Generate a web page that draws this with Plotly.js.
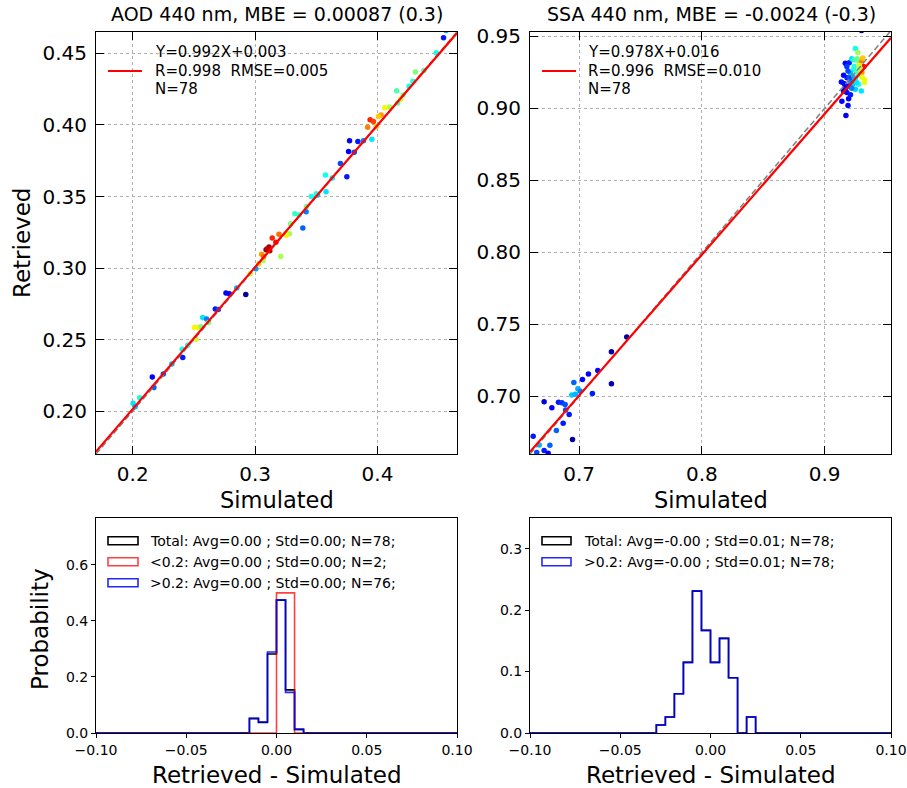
<!DOCTYPE html>
<html><head><meta charset="utf-8">
<script src="https://cdn.plot.ly/plotly-3.0.1.min.js"></script>
<style>html,body{margin:0;padding:0;background:#fff}#chart{width:907px;height:788px}</style>
</head><body><div id="chart"></div>
<script>
// ---------- AOD 440 nm scatter ----------
const aodSim = [0.456,0.454,0.448,0.431,0.429,0.4258,0.4157,0.4165,0.410,0.406,0.403,0.4008,0.394,0.3967,0.392,0.3954,0.3886,0.384,0.3772,0.3764,0.375,0.3697,0.3575,0.358,0.346,0.3417,0.339,0.3325,0.329,0.328,0.3255,0.3195,0.314,0.3114,0.309,0.310,0.321,0.3054,0.3065,0.3006,0.2924,0.2762,0.2789,0.2675,0.2572,0.2604,0.2504,0.2531,0.2558,0.2518,0.2404,0.2409,0.216,0.2173,0.2057,0.2003,0.202,0.225,0.232,0.245,0.262,0.270,0.285,0.296,0.303,0.317,0.336,0.351,0.363,0.381,0.399,0.421,0.438,0.312,0.307,0.350,0.342,0.419];
const aodRet = [0.466,0.461,0.4505,0.437,0.4306,0.427,0.424,0.4154,0.4126,0.412,0.407,0.406,0.4036,0.4025,0.3985,0.390,0.389,0.3884,0.389,0.3814,0.3638,0.373,0.365,0.3533,0.350,0.3393,0.328,0.338,0.331,0.324,0.3229,0.3236,0.321,0.3147,0.3128,0.3135,0.308,0.3096,0.3053,0.2995,0.2815,0.2826,0.282,0.2714,0.2655,0.2644,0.2585,0.2585,0.259,0.2503,0.2433,0.2374,0.2239,0.2164,0.2093,0.2054,0.203,0.226,0.233,0.246,0.262,0.271,0.286,0.296,0.303,0.318,0.337,0.351,0.363,0.381,0.399,0.421,0.438,0.312,0.308,0.352,0.343,0.418];
const aodColor = [0.3,0.15,0.38,0.5,0.4,0.38,0.45,0.45,0.55,0.65,0.75,0.7,0.88,0.85,0.78,0.35,0.25,0.15,0.12,0.12,0.15,0.2,0.38,0.35,0.38,0.25,0.22,0.42,0.5,0.55,0.65,0.8,0.88,0.97,0.98,0.95,0.55,0.75,0.55,0.28,0.02,0.12,0.12,0.15,0.35,0.25,0.65,0.65,0.5,0.6,0.38,0.15,0.12,0.22,0.38,0.35,0.3,0.2,0.3,0.4,0.5,0.2,0.3,0.6,0.7,0.9,0.4,0.3,0.35,0.2,0.7,0.5,0.45,0.95,0.8,0.4,0.5,0.6];
const aodFit = [0.992, 0.003];
const aodStats = ["Y=0.992X+0.003", "R=0.998\u00a0 RMSE=0.005", "N=78"];
const aodTitle = "AOD 440 nm, MBE = 0.00087 (0.3)";

// ---------- SSA 440 nm scatter ----------
const ssaSim = [0.7388,0.7263,0.7263,0.7152,0.7076,0.7027,0.7108,0.6957,0.699,0.694,0.697,0.6919,0.6946,0.687,0.6815,0.6832,0.686,0.6886,0.6778,0.6715,0.6626,0.6675,0.6762,0.6715,0.6748,0.6655,0.930,0.925,0.927,0.9168,0.920,0.922,0.9276,0.9298,0.9317,0.929,0.9236,0.921,0.9303,0.9154,0.9182,0.925,0.9325,0.9325,0.9276,0.9228,0.9195,0.9168,0.9298,0.925,0.9154,0.918,0.914,0.9195,0.919,0.9173,0.9136,0.9276,0.921,0.923,0.926,0.924,0.928,0.919,0.916,0.922,0.931,0.918,0.926,0.921,0.920,0.9285,0.924,0.917,0.9305,0.9265,0.701,0.689];
const ssaRet = [0.7412,0.731,0.7088,0.718,0.7155,0.7118,0.702,0.7097,0.7053,0.7009,0.7014,0.6875,0.670,0.6813,0.6764,0.696,0.6956,0.6944,0.6921,0.6963,0.6724,0.6662,0.666,0.6625,0.6605,0.661,0.954,0.9415,0.9387,0.9313,0.9317,0.9345,0.9329,0.9329,0.929,0.9276,0.927,0.9243,0.9248,0.923,0.9213,0.920,0.9197,0.918,0.9167,0.9167,0.9155,0.9132,0.912,0.9132,0.912,0.911,0.905,0.9067,0.902,0.8951,0.9183,0.923,0.919,0.922,0.925,0.929,0.930,0.926,0.917,0.914,0.935,0.929,0.918,0.9095,0.921,0.927,0.9335,0.9155,0.9215,0.9345,0.7035,0.6905];
const ssaColor = [0.03,0.03,0.05,0.12,0.12,0.13,0.15,0.22,0.3,0.32,0.3,0.15,0.03,0.15,0.22,0.15,0.18,0.2,0.12,0.08,0.15,0.3,0.22,0.15,0.12,0.2,0.05,0.38,0.55,0.13,0.15,0.35,0.5,0.78,0.9,0.68,0.38,0.3,0.75,0.13,0.15,0.4,0.65,0.63,0.38,0.32,0.15,0.12,0.35,0.33,0.08,0.13,0.12,0.12,0.13,0.1,0.13,0.45,0.25,0.3,0.45,0.4,0.6,0.2,0.12,0.25,0.7,0.18,0.35,0.15,0.2,0.55,0.42,0.1,0.62,0.48,0.25,0.2];
const ssaFit = [0.978, 0.016];
const ssaStats = ["Y=0.978X+0.016", "R=0.996\u00a0 RMSE=0.010", "N=78"];
const ssaTitle = "SSA 440 nm, MBE = -0.0024 (-0.3)";

// ---------- Histograms of Retrieved - Simulated ----------
const aodBinEdges = [-0.015,-0.010,-0.005,0.000,0.005,0.010,0.015];
const aodTotalProb = [0.051,0.038,0.282,0.474,0.154,0.013];
const aodHighProb  = [0.053,0.039,0.289,0.474,0.145,0.013];
const aodLowEdges  = [0.000,0.005,0.010];
const aodLowProb   = [0.5,0.5];
const aodHistLabels = ["Total: Avg=0.00 ; Std=0.00; N=78;", "<0.2: Avg=0.00 ; Std=0.00; N=2;", ">0.2: Avg=0.00 ; Std=0.00; N=76;"];

const ssaBinEdges = [-0.030,-0.025,-0.020,-0.015,-0.010,-0.005,0.000,0.005,0.010,0.015,0.020,0.025];
const ssaTotalProb = [0.013,0.026,0.064,0.115,0.231,0.167,0.115,0.154,0.090,0.000,0.026];
const ssaHighProb  = [0.013,0.026,0.064,0.115,0.231,0.167,0.115,0.154,0.090,0.000,0.026];
const ssaHistLabels = ["Total: Avg=-0.00 ; Std=0.01; N=78;", ">0.2: Avg=-0.00 ; Std=0.01; N=78;"];

const histRange = [-0.1, 0.1];

// ---------- helpers ----------
const W = 907, H = 788;
const px = v => v / W, py = v => 1 - v / H;
const FONT = "DejaVu Sans, Liberation Sans, sans-serif";
const jet = [[0,'#00007f'],[0.11,'#0000ff'],[0.125,'#0000ff'],[0.34,'#00dbff'],[0.375,'#0dfff0'],[0.5,'#7dff7a'],[0.64,'#f0ff07'],[0.66,'#ffed00'],[0.89,'#ff1a00'],[0.91,'#f00000'],[1,'#7f0000']];

function stepXY(edges, probs) {
  const xs = [histRange[0]], ys = [0];
  for (let i = 0; i < probs.length; i++) { xs.push(edges[i]); ys.push(probs[i]); }
  xs.push(edges[edges.length - 1]); ys.push(0);
  xs.push(histRange[1]); ys.push(0);
  return {x: xs, y: ys};
}

const aodRange = [0.17, 0.465];
const ssaXRange = [0.66, 0.954];
const ssaYRange = [0.66, 0.953];

const traces = [];
function scatterPanel(sim, ret, col, fit, xr, xa, ya) {
  traces.push({type:'scatter', mode:'markers', x:sim, y:ret, xaxis:xa, yaxis:ya,
    marker:{size:5.5, color:col, colorscale:jet, cmin:0, cmax:1, line:{width:0}}, hoverinfo:'skip', showlegend:false});
  traces.push({type:'scatter', mode:'lines', x:xr, y:xr, xaxis:xa, yaxis:ya,
    line:{color:'#808080', width:1.5, dash:'6px,3px'}, showlegend:false, hoverinfo:'skip'});
  traces.push({type:'scatter', mode:'lines', x:xr, y:xr.map(v => fit[0]*v + fit[1]), xaxis:xa, yaxis:ya,
    line:{color:'#ff0000', width:2.2}, showlegend:false, hoverinfo:'skip'});
}
scatterPanel(aodSim, aodRet, aodColor, aodFit, aodRange, 'x', 'y');
scatterPanel(ssaSim, ssaRet, ssaColor, ssaFit, ssaXRange, 'x2', 'y2');

function stepTrace(edges, probs, color, xa, ya) {
  const s = stepXY(edges, probs);
  traces.push({type:'scatter', mode:'lines', x:s.x, y:s.y, xaxis:xa, yaxis:ya,
    line:{shape:'hv', color:color, width:1.6}, showlegend:false, hoverinfo:'skip'});
}
stepTrace(aodBinEdges, aodTotalProb, '#000000', 'x3', 'y3');
stepTrace(aodLowEdges, aodLowProb, 'rgba(255,0,0,0.75)', 'x3', 'y3');
stepTrace(aodBinEdges, aodHighProb, 'rgba(0,0,255,0.85)', 'x3', 'y3');
stepTrace(ssaBinEdges, ssaTotalProb, '#000000', 'x4', 'y4');
stepTrace(ssaBinEdges, ssaHighProb, 'rgba(0,0,255,0.85)', 'x4', 'y4');

const topAxis = {showline:true, linecolor:'black', linewidth:1, mirror:'ticks', ticks:'inside', ticklen:8,
  tickwidth:1, tickcolor:'black', showgrid:true, gridcolor:'#b0b0b0', griddash:'3px,3px', gridwidth:1,
  zeroline:false, tickfont:{size:20, color:'black', family:FONT}, ticklabelstandoff:2};
const histAxis = {showline:true, linecolor:'black', linewidth:1, mirror:true, ticks:'outside', ticklen:4,
  tickwidth:1, tickcolor:'black', showgrid:false, zeroline:false, tickfont:{size:14, color:'black', family:FONT}};

const dL = [px(96), px(457)], dR = [px(530), px(891)];
const dTop = [py(454), py(32)], dBot = [py(733), py(518)];

const layout = {
  width:W, height:H, margin:{l:0,r:0,t:0,b:0}, paper_bgcolor:'white', plot_bgcolor:'white',
  font:{family:FONT, color:'black'}, showlegend:false,
  xaxis: Object.assign({}, topAxis, {domain:dL, anchor:'y', range:aodRange, dtick:0.1, tick0:0, tickformat:'.1f'}),
  yaxis: Object.assign({}, topAxis, {domain:dTop, anchor:'x', range:aodRange, dtick:0.05, tick0:0, tickformat:'.2f', ticklabelstandoff:4}),
  xaxis2: Object.assign({}, topAxis, {domain:dR, anchor:'y2', range:ssaXRange, dtick:0.1, tick0:0, tickformat:'.1f'}),
  yaxis2: Object.assign({}, topAxis, {domain:dTop, anchor:'x2', range:ssaYRange, dtick:0.05, tick0:0, tickformat:'.2f', ticklabelstandoff:4}),
  xaxis3: Object.assign({}, histAxis, {domain:dL, anchor:'y3', range:histRange, dtick:0.05, tick0:0, tickformat:'.2f'}),
  yaxis3: Object.assign({}, histAxis, {domain:dBot, anchor:'x3', range:[0,0.767], dtick:0.2, tick0:0, tickformat:'.1f'}),
  xaxis4: Object.assign({}, histAxis, {domain:dR, anchor:'y4', range:histRange, dtick:0.05, tick0:0, tickformat:'.2f'}),
  yaxis4: Object.assign({}, histAxis, {domain:dBot, anchor:'x4', range:[0,0.35], dtick:0.1, tick0:0, tickformat:'.1f'}),
  shapes:[], annotations:[]
};

function ann(text, x, y, size, opts) {
  layout.annotations.push(Object.assign({text:text, x:px(x), y:py(y), xref:'paper', yref:'paper',
    showarrow:false, font:{size:size, family:FONT, color:'black'}, xanchor:'center', yanchor:'middle', borderpad:0}, opts||{}));
}
// titles
ann(aodTitle, 277, 14, 19);
ann(ssaTitle, 711, 14, 19);
ann("Simulated", 277, 500, 22.5);
ann("Simulated", 711, 500, 22.5);
ann("Retrieved", 22, 243, 23, {textangle:-90});
ann("Probability", 40, 629, 23, {textangle:-90});
ann("Retrieved - Simulated", 277, 775, 23);
ann("Retrieved - Simulated", 711, 775, 23);

// stats legends in scatter panels
function statsLegend(lines, lineX0, lineX1, textX) {
  layout.shapes.push({type:'line', xref:'paper', yref:'paper', x0:px(lineX0), x1:px(lineX1), y0:py(71), y1:py(71),
    line:{color:'#ff0000', width:2}});
  const ys = [52.5, 71, 89.5];
  lines.forEach((t, i) => ann(t, textX, ys[i], 15, {xanchor:'left'}));
}
statsLegend(aodStats, 108, 142, 154);
statsLegend(ssaStats, 542, 576, 587);

// histogram legends
function histLegend(labels, colors, rx0, rx1, textX) {
  const ys = [540.7, 561.7, 582.7];
  labels.forEach((t, i) => {
    layout.shapes.push({type:'rect', xref:'paper', yref:'paper', x0:px(rx0), x1:px(rx1), y0:py(ys[i]-4), y1:py(ys[i]+4),
      line:{color:colors[i], width:1.6}, fillcolor:'rgba(0,0,0,0)'});
    ann(t, textX, ys[i], 14, {xanchor:'left'});
  });
}
histLegend(aodHistLabels, ['#000000','rgba(255,0,0,0.75)','rgba(0,0,255,0.85)'], 108, 138, 149);
histLegend(ssaHistLabels, ['#000000','rgba(0,0,255,0.85)'], 542, 571, 583);

Plotly.newPlot('chart', traces, layout, {displayModeBar:false, staticPlot:true});
</script></body></html>
